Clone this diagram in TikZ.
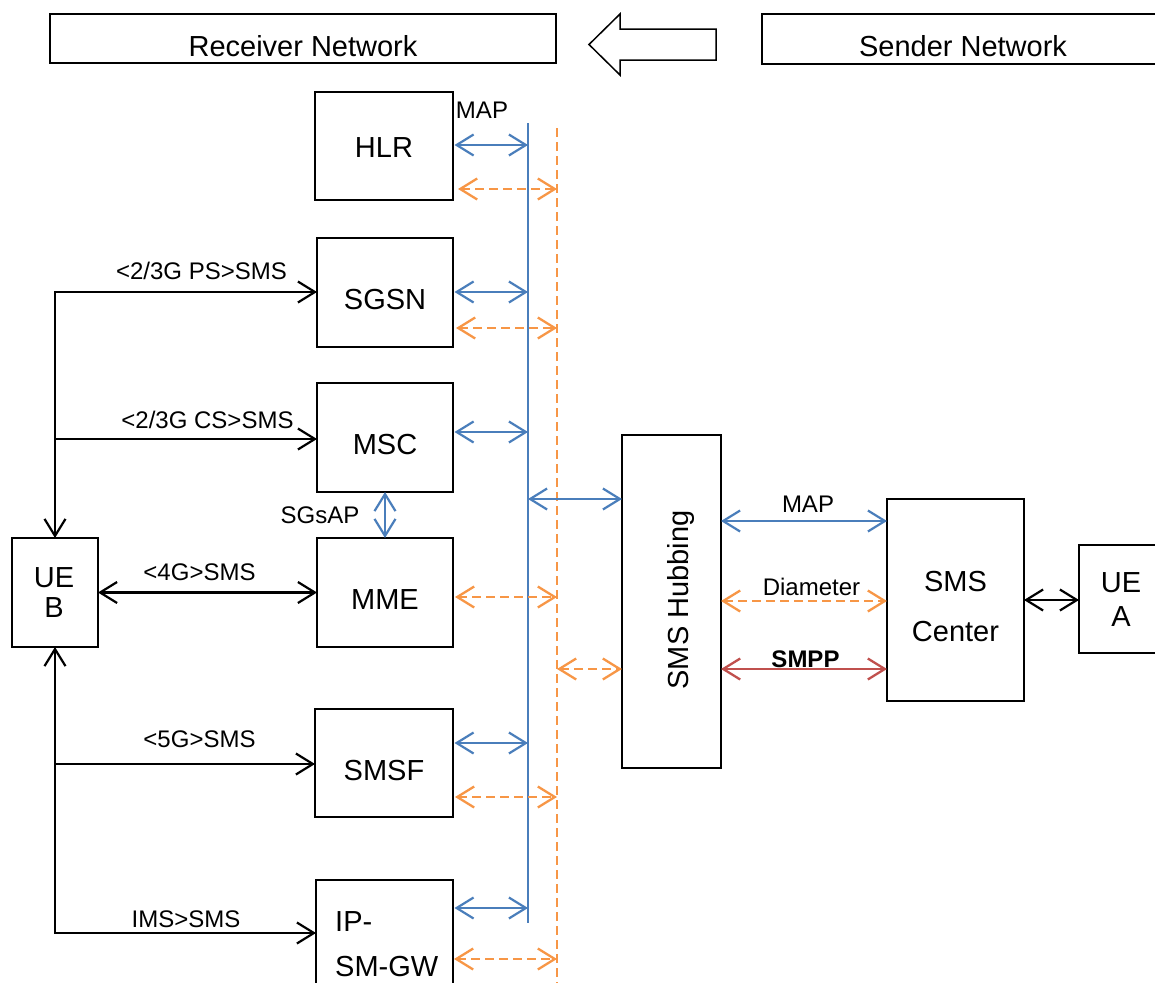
\documentclass[tikz,border=0pt]{standalone}
\usepackage{fontspec}
\setmainfont{Liberation Sans}
\usetikzlibrary{arrows.meta}
\definecolor{cblue}{HTML}{4A7EBB}
\definecolor{corange}{HTML}{F79646}
\definecolor{cred}{HTML}{C0504D}
\newcommand\bxf{\fontsize{29bp}{34bp}\selectfont}
\newcommand\lbf{\fontsize{24bp}{28bp}\selectfont}
\begin{document}
\begin{tikzpicture}[x=1bp,y=-1bp,
  >={Straight Barb[length=17bp,width=21bp]},
  box/.style={draw, line width=1.4bp, inner sep=0pt, outer sep=0pt},
  btxt/.style={font=\bxf, inner sep=0pt, anchor=base},
  ltxt/.style={font=\lbf, inner sep=0pt, anchor=base},
  blk/.style={draw=black, line width=2.2bp},
  blu/.style={draw=cblue, line width=2.2bp},
  org/.style={draw=corange, line width=2.3bp, dash pattern=on 9bp off 5bp},
  rd/.style={draw=cred, line width=2.3bp},
]
\useasboundingbox (0,0) rectangle (1155,983);
\clip (0,0) rectangle (1155,983);

% top banner
\node[box, minimum width=506bp, minimum height=49bp] (recv) at (303,38.5) {};
\node[btxt] (recvt) at (303,56) {Receiver Network};
\node[box, minimum width=402bp, minimum height=50bp] (send) at (963,39) {};
\node[btxt] (sendt) at (963,56) {Sender Network};
\draw[line width=1.5bp, line join=miter] (589,44.5) -- (620,14) -- (620,29) -- (716,29) -- (716,60) -- (620,60) -- (620,75) -- cycle;

% boxes
\node[box, minimum width=138bp, minimum height=108bp] (hlr) at (384,146) {};
\node[box, minimum width=136bp, minimum height=109bp] (sgsn) at (385,292.5) {};
\node[box, minimum width=136bp, minimum height=109bp] (msc) at (385,437.5) {};
\node[box, minimum width=136bp, minimum height=109bp] (mme) at (385,592.5) {};
\node[box, minimum width=138bp, minimum height=108bp] (smsf) at (384,763) {};
\node[box, minimum width=137bp, minimum height=110bp] (ipsm) at (384.5,935) {};
\node[box, minimum width=86bp, minimum height=109bp] (ueb) at (55,592.5) {};
\node[box, minimum width=99bp, minimum height=333bp] (hub) at (671.5,601.5) {};
\node[box, minimum width=137bp, minimum height=202bp] (smsc) at (955.5,600) {};
\node[box, minimum width=85bp, minimum height=108bp] (uea) at (1121.5,599) {};

% box texts
\node[btxt] (hlrt) at (384,157) {HLR};
\node[btxt] (sgsnt) at (385,309.5) {SGSN};
\node[btxt] (msct) at (385,454.5) {MSC};
\node[btxt] (mmet) at (385,609.5) {MME};
\node[btxt] (smsft) at (384,780) {SMSF};
\node[font=\fontsize{29bp}{45bp}\selectfont, align=left, anchor=west, inner sep=0pt] (ipsmt) at (335,944) {IP-\\SM-GW};
\node[font=\fontsize{29bp}{30bp}\selectfont, align=center, inner sep=0pt] (uebt) at (54,592.5) {UE\\B};
\node[font=\fontsize{29bp}{34bp}\selectfont, align=center, inner sep=0pt] (ueat) at (1121,599.5) {UE\\A};
\node[font=\fontsize{29bp}{50bp}\selectfont, align=center, inner sep=0pt] (smsct) at (955.5,606.5) {SMS\\Center};
\node[btxt, rotate=90] (hubt) at (688,600) {SMS Hubbing};

% labels
\node[ltxt] (l1) at (482,118) {MAP};
\node[ltxt] (l2) at (201.5,279) {<2/3G PS>SMS};
\node[ltxt] (l3) at (207.5,428) {<2/3G CS>SMS};
\node[ltxt] (l4) at (199.5,580) {<4G>SMS};
\node[ltxt] (l5) at (199.5,747) {<5G>SMS};
\node[ltxt] (l6) at (186,927) {IMS>SMS};
\node[ltxt] (l7) at (320,523) {SGsAP};
\node[ltxt] (l8) at (808,512) {MAP};
\node[ltxt] (l9) at (811.5,595) {Diameter};
\node[ltxt, font=\lbf\bfseries] (l10) at (805.5,667) {SMPP};

% buses
\coordinate (bt) at (528,123);
\coordinate (bb) at (528,923);
\coordinate (ot) at (557,128);
\coordinate (ob) at (557,990);
\draw[blu] (bt) -- (bb);
\draw[org] (ot) -- (ob);

% blue box-bus arrows
\draw[blu,<->,shorten <=1.5bp] (hlr.east |- 0,145) -- (bt |- 0,145);
\draw[blu,<->,shorten <=1.5bp] (sgsn.east |- 0,292) -- (bt |- 0,292);
\draw[blu,<->,shorten <=1.5bp] (msc.east |- 0,432) -- (bt |- 0,432);
\draw[blu,<->,shorten <=1.5bp] (smsf.east |- 0,743) -- (bt |- 0,743);
\draw[blu,<->,shorten <=1.5bp] (ipsm.east |- 0,908) -- (bt |- 0,908);
% orange box-bus arrows
\draw[org,<->,shorten <=5bp] (hlr.east |- 0,189) -- (ot |- 0,189);
\draw[org,<->,shorten <=3bp] (sgsn.east |- 0,328) -- (ot |- 0,328);
\draw[org,<->,shorten <=2bp] (mme.east |- 0,597) -- (ot |- 0,597);
\draw[org,<->,shorten <=2bp] (smsf.east |- 0,797) -- (ot |- 0,797);
\draw[org,<->,shorten <=1bp] (ipsm.east |- 0,959) -- (ot |- 0,959);

% bus to hub
\draw[blu,<->] (bt |- 0,499) -- (hub.west |- 0,499);
\draw[org,<->] (ot |- 0,669) -- (hub.west |- 0,669);

% hub to SMS center
\draw[blu,<->] (hub.east |- 0,521) -- (smsc.west |- 0,521);
\draw[org,<->] (hub.east |- 0,601) -- (smsc.west |- 0,601);
\draw[rd,<->] (hub.east |- 0,669) -- (smsc.west |- 0,669);
\draw[blk,<->] (smsc.east) -- (uea.west |- smsc.east);

% SGsAP
\draw[blu,<->] (msc.south) -- (mme.north);

% UE B links
\draw[blk,<->] (sgsn.west |- 0,292) -- (ueb.north |- 0,292) -- (ueb.north);
\draw[blk,->] (ueb.north |- 0,439) -- (msc.west |- 0,439);
\draw[blk,<->] (ueb.east) -- (mme.west);
\draw[blk,->] (ueb.south |- 0,764) -- (smsf.west |- 0,764);
\draw[blk,<->] (ipsm.west |- 0,933) -- (ueb.south |- 0,933) -- (ueb.south);
\end{tikzpicture}
\end{document}
